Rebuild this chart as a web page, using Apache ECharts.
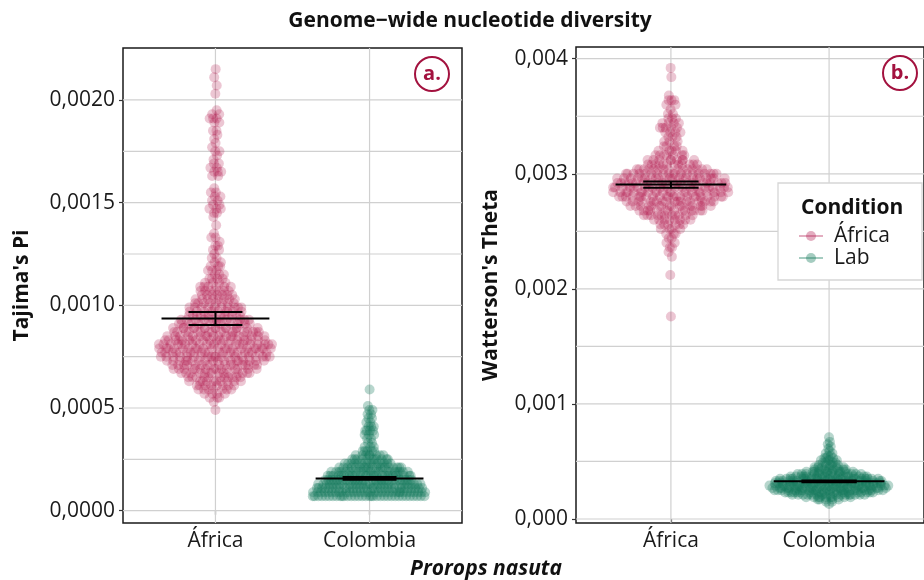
<!DOCTYPE html>
<html>
<head>
<meta charset="utf-8">
<script src="https://cdn.jsdelivr.net/npm/echarts@6/dist/echarts.min.js"></script>
<style>
  html, body { margin: 0; padding: 0; background: #fff; }
  #chart { width: 924px; height: 580px; }
</style>
</head>
<body>
<div id="chart"></div>
<script>
// ---- data -------------------------------------------------------------
// x categories
const categories = ['África', 'Colombia'];
// legend groups (Condition)
const conditions = ['África', 'Lab'];

// Tajima's Pi: per-window values, binned (bin centre = start + k * step)
const piStep = 0.00002;
const piAfricaStart = 0.00049;
const piAfricaCounts = [
  1, 0, 1, 3, 4, 7, 8, 10, 11, 14, 15, 17, 18, 20, 21, 21, 21, 20, 18, 17,
  15, 14, 13, 11, 10, 10, 8, 8, 7, 7, 6, 4, 4, 3, 3, 3,
  2, 2, 1, 2, 2, 1, 2, 1, 0, 1, 0, 1, 2, 3, 2, 2, 2, 2, 1, 0,
  0, 2, 3, 2, 2, 1, 1, 2, 1, 1, 1, 1, 2, 0, 2, 3, 2, 1, 0, 0,
  0, 1, 0, 1, 0, 1, 0, 1
];
const piColombiaStart = 0.00007;
const piColombiaCounts = [
  34, 33, 32, 30, 27, 25, 23, 19, 15, 11, 8, 5, 3, 2, 2, 3, 4, 3, 2, 2,
  2, 2, 1, 0, 0, 0, 1
];

// Watterson's Theta: per-window values, binned
const thetaAfricaStep = 0.00004;
const thetaAfricaStart = 0.00176;
const thetaAfricaCounts = [
  1, 0, 0, 0, 0, 0, 0, 0, 0, 1, 0, 0, 0,
  1, 1, 2, 2, 2, 3, 4, 6, 8, 11, 14, 16, 19, 22, 23, 24, 24, 22, 19, 15,
  12, 9, 7, 5, 4, 3, 3, 4, 5, 4, 3, 2, 1, 2, 3, 1, 0, 0, 0, 1, 0, 1
];
const thetaColombiaStep = 0.00002;
const thetaColombiaStart = 0.00013;
const thetaColombiaCounts = [
  1, 2, 5, 10, 17, 21, 24, 26, 26, 25, 24, 22, 18, 14, 11, 8, 6, 5, 4, 4,
  3, 2, 2, 1, 1, 1, 1, 1, 0, 1
];

// group summaries: mean and interval [low, high] per category
const piMean = [0.000936, 0.000157];
const piLow = [0.000904, 0.000151];
const piHigh = [0.000967, 0.000164];
const thetaMean = [0.002907, 0.000327];
const thetaLow = [0.002879, 0.000320];
const thetaHigh = [0.002933, 0.000334];

// axis ticks and grid lines
const piTicks = [0, 0.0005, 0.001, 0.0015, 0.002];
const piGrid = [0, 0.00025, 0.0005, 0.00075, 0.001, 0.00125, 0.0015, 0.00175, 0.002];
const thetaTicks = [0, 0.001, 0.002, 0.003, 0.004];
const thetaGrid = [0, 0.0005, 0.001, 0.0015, 0.002, 0.0025, 0.003, 0.0035, 0.004];

// ---- styling ----------------------------------------------------------
const FONT = '"Open Sans", "Noto Sans", sans-serif';
const FS = 21;
const AFRICA = 'rgba(176, 21, 74, 0.3)';
const AFRICA_KEY = 'rgba(176, 21, 74, 0.35)';
const LAB = 'rgba(19, 122, 90, 0.38)';
const BADGE = '#a3123f';
const GRID_LINE = '#d0d0d0';
const SWARM_WIDTH = 0.38;

// van der Corput sequence, base 2
function vdc(n) {
  let q = 0, bk = 0.5;
  while (n > 0) { q += (n % 2) * bk; n = Math.floor(n / 2); bk /= 2; }
  return q;
}

// quasirandom swarm: offset by van der Corput rank, scaled by local density
function swarm(start, step, counts, centre) {
  const w = [0.25, 0.5, 0.25];
  const dens = counts.map((c, k) => {
    let s = 0, ws = 0;
    for (let j = -1; j <= 1; j++) {
      const kk = k + j;
      if (kk < 0 || kk >= counts.length) continue;
      s += w[j + 1] * counts[kk]; ws += w[j + 1];
    }
    return s / ws;
  });
  const mx = Math.max.apply(null, dens);
  const pts = [];
  let idx = 0;
  counts.forEach((c, k) => {
    const v = +(start + k * step).toFixed(6);
    for (let i = 0; i < c; i++) {
      idx++;
      const off = (vdc(idx) - 0.5) * 2 * SWARM_WIDTH * dens[k] / mx;
      pts.push([centre + off, v]);
    }
  });
  return pts;
}

function summaryRows(mean, low, high) {
  return mean.map((m, i) => [i + 1, m, low[i], high[i]]);
}

function renderSummary(params, api) {
  const x = api.value(0), m = api.value(1), lo = api.value(2), hi = api.value(3);
  const st = { stroke: '#000', lineWidth: 2 };
  const seg = (a, b) => ({ type: 'line', shape: { x1: a[0], y1: a[1], x2: b[0], y2: b[1] }, style: st });
  return {
    type: 'group',
    children: [
      seg(api.coord([x - 0.175, lo]), api.coord([x + 0.175, lo])),
      seg(api.coord([x - 0.175, hi]), api.coord([x + 0.175, hi])),
      seg(api.coord([x, lo]), api.coord([x, hi])),
      seg(api.coord([x - 0.35, m]), api.coord([x + 0.35, m]))
    ]
  };
}

// background grid: rows [orientation (0 horizontal, 1 vertical), value]
function renderGrid(params, api) {
  const cs = params.coordSys;
  const vertical = api.value(0) === 1;
  const v = api.value(1);
  let shape;
  if (vertical) {
    const x = api.coord([v, 0])[0];
    shape = { x1: x, y1: cs.y, x2: x, y2: cs.y + cs.height };
  } else {
    const y = api.coord([1, v])[1];
    shape = { x1: cs.x, y1: y, x2: cs.x + cs.width, y2: y };
  }
  return { type: 'line', shape: shape, style: { stroke: GRID_LINE, lineWidth: 1.2 } };
}

function xAxisFor(gridIndex) {
  return {
    type: 'value', gridIndex: gridIndex, min: 0.4, max: 2.6,
    splitLine: { show: false },
    axisLine: { show: false },
    axisTick: { show: true, customValues: [1, 2], length: 4, lineStyle: { color: '#333', width: 1.2 } },
    axisLabel: {
      customValues: [1, 2], margin: 8, fontSize: FS, color: '#1a1a1a', fontFamily: FONT,
      formatter: v => categories[Math.round(v) - 1]
    }
  };
}

function yAxisFor(gridIndex, min, max, ticks, digits, name, gap) {
  return {
    type: 'value', gridIndex: gridIndex, min: min, max: max,
    splitLine: { show: false },
    axisLine: { show: false },
    axisTick: { show: true, customValues: ticks, length: 4, lineStyle: { color: '#333', width: 1.2 } },
    axisLabel: {
      customValues: ticks, margin: 8, fontSize: FS, color: '#1a1a1a', fontFamily: FONT,
      formatter: v => v.toFixed(digits).replace('.', ',')
    },
    name: name, nameLocation: 'middle', nameGap: gap, nameRotate: 90,
    nameTextStyle: { fontSize: FS, fontWeight: 'bold', color: '#111', fontFamily: FONT }
  };
}

function gridLines(xi, yi, yVals) {
  const rows = yVals.map(v => [0, v]).concat([[1, 1], [1, 2]]);
  return {
    type: 'custom', xAxisIndex: xi, yAxisIndex: yi, data: rows, z: 1, silent: true,
    renderItem: renderGrid
  };
}

function points(xi, yi, data, color, name) {
  return {
    type: 'scatter', name: name, xAxisIndex: xi, yAxisIndex: yi, data: data, z: 2,
    symbol: 'circle', symbolSize: 10, itemStyle: { color: color, borderWidth: 0 },
    silent: true, large: false
  };
}

function summary(xi, yi, rows) {
  return {
    type: 'custom', xAxisIndex: xi, yAxisIndex: yi, data: rows, z: 3,
    renderItem: renderSummary, silent: true
  };
}

function centredText(x, y, text, font, fill) {
  return { type: 'text', x: x, y: y, z: 11,
    style: { text: text, font: font, fill: fill, align: 'center', verticalAlign: 'middle',
             textAlign: 'center', textVerticalAlign: 'middle' } };
}

function badge(cx, cy, label) {
  return [
    { type: 'circle', shape: { cx: cx, cy: cy, r: 17 }, style: { fill: '#fff', stroke: BADGE, lineWidth: 2 }, z: 10 },
    centredText(cx, cy, label, 'bold 20px ' + FONT, BADGE)
  ];
}

function legendKey(y, color, label) {
  return [
    { type: 'line', shape: { x1: 799, y1: y, x2: 823, y2: y }, style: { stroke: color, lineWidth: 2 }, z: 11 },
    { type: 'circle', shape: { cx: 811, cy: y, r: 5 }, style: { fill: color }, z: 11 },
    { type: 'text', x: 834, y: y, z: 11,
      style: { text: label, font: FS + 'px ' + FONT, fill: '#1a1a1a', align: 'left', verticalAlign: 'middle',
               textAlign: 'left', textVerticalAlign: 'middle' } }
  ];
}

const chart = echarts.init(document.getElementById('chart'), null, { renderer: 'canvas' });

const option = {
  animation: false,
  backgroundColor: '#fff',
  textStyle: { fontFamily: FONT },
  grid: [
    { left: 123, top: 48, width: 339, height: 475, show: true, borderColor: '#1a1a1a', borderWidth: 1.5, backgroundColor: '#fff' },
    { left: 576, top: 47, width: 351, height: 476, show: true, borderColor: '#1a1a1a', borderWidth: 1.5, backgroundColor: '#fff' }
  ],
  xAxis: [xAxisFor(0), xAxisFor(1)],
  yAxis: [
    yAxisFor(0, -0.0000599, 0.002253, piTicks, 4, "Tajima's Pi", 90),
    yAxisFor(1, -0.0000348, 0.0041017, thetaTicks, 3, "Watterson's Theta", 74)
  ],
  series: [
    gridLines(0, 0, piGrid),
    gridLines(1, 1, thetaGrid),
    points(0, 0, swarm(piAfricaStart, piStep, piAfricaCounts, 1), AFRICA, conditions[0]),
    points(0, 0, swarm(piColombiaStart, piStep, piColombiaCounts, 2), LAB, conditions[1]),
    points(1, 1, swarm(thetaAfricaStart, thetaAfricaStep, thetaAfricaCounts, 1), AFRICA, conditions[0]),
    points(1, 1, swarm(thetaColombiaStart, thetaColombiaStep, thetaColombiaCounts, 2), LAB, conditions[1]),
    summary(0, 0, summaryRows(piMean, piLow, piHigh)),
    summary(1, 1, summaryRows(thetaMean, thetaLow, thetaHigh))
  ],
  graphic: [
    centredText(470, 21, 'Genome−wide nucleotide diversity', 'bold ' + FS + 'px ' + FONT, '#111'),
    centredText(486, 569, 'Prorops nasuta', 'italic bold ' + FS + 'px ' + FONT, '#111'),
    { type: 'rect', shape: { x: 778, y: 183, width: 144, height: 97 }, style: { fill: '#fff', stroke: '#d6d6d6', lineWidth: 1.3 }, z: 10 },
    { type: 'text', x: 801, y: 208, z: 11,
      style: { text: 'Condition', font: 'bold ' + FS + 'px ' + FONT, fill: '#111',
               align: 'left', verticalAlign: 'middle', textAlign: 'left', textVerticalAlign: 'middle' } }
  ].concat(legendKey(236, AFRICA_KEY, conditions[0]))
   .concat(legendKey(258, LAB, conditions[1]))
   .concat(badge(432, 74, 'a.'))
   .concat(badge(900, 73, 'b.'))
};

chart.setOption(option);
</script>
</body>
</html>
